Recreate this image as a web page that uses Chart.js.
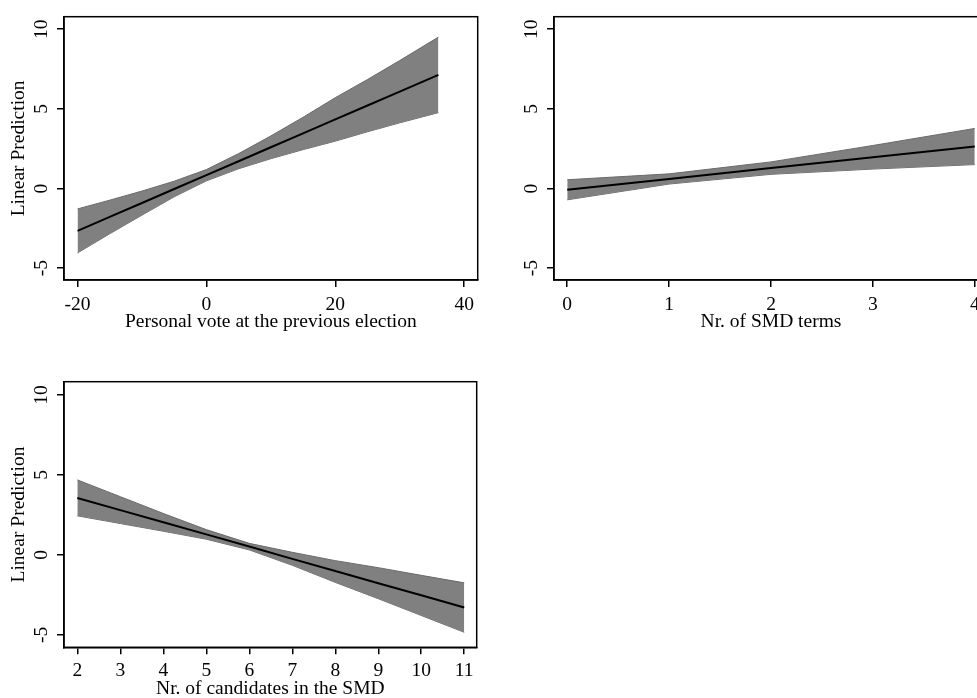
<!DOCTYPE html>
<html>
<head>
<meta charset="utf-8">
<script src="https://cdn.jsdelivr.net/npm/chart.js@4.4.1/dist/chart.umd.min.js"></script>
<style>
  html, body { margin: 0; padding: 0; background: #fff; }
  body { width: 977px; height: 698px; overflow: hidden; position: relative; }
  canvas { position: absolute; }
</style>
</head>
<body>
<canvas id="votePanel" width="489" height="340" style="left:0;top:0"></canvas>
<canvas id="termsPanel" width="509" height="340" style="left:490px;top:0"></canvas>
<canvas id="candPanel" width="489" height="342" style="left:0;top:365px"></canvas>
<script>
// Personal vote at the previous election
const voteX     = [-20, -15, -10, -5, 0, 5, 10, 15, 20, 25, 30, 36];
const voteFit   = [-2.66, -1.78, -0.91, -0.03, 0.84, 1.71, 2.59, 3.46, 4.34, 5.21, 6.08, 7.13];
const voteUpper = [-1.28, -0.73, -0.16, 0.46, 1.19, 2.19, 3.30, 4.47, 5.70, 6.84, 8.03, 9.50];
const voteLower = [-4.04, -2.84, -1.67, -0.52, 0.48, 1.24, 1.87, 2.44, 2.97, 3.56, 4.12, 4.76];
const voteTicks = [-20, 0, 20, 40];

// Nr. of SMD terms
const termsX     = [0, 1, 2, 3, 4];
const termsFit   = [-0.08, 0.60, 1.28, 1.96, 2.64];
const termsUpper = [0.55, 0.92, 1.67, 2.70, 3.77];
const termsLower = [-0.71, 0.28, 0.89, 1.22, 1.50];
const termsTicks = [0, 1, 2, 3, 4];

// Nr. of candidates in the SMD
const candX     = [2, 3, 4, 5, 6, 7, 8, 9, 10, 11];
const candFit   = [3.56, 2.80, 2.04, 1.28, 0.52, -0.25, -1.01, -1.77, -2.53, -3.29];
const candUpper = [4.69, 3.64, 2.59, 1.58, 0.72, 0.16, -0.36, -0.80, -1.28, -1.75];
const candLower = [2.44, 1.96, 1.48, 0.98, 0.31, -0.65, -1.72, -2.74, -3.79, -4.84];
const candTicks = [2, 3, 4, 5, 6, 7, 8, 9, 10, 11];

const yTicks = [-5, 0, 5, 10];
const yTitle = 'Linear Prediction';

const FONT = { family: '"Liberation Serif", "Times New Roman", serif', size: 19.5 };

// stata-style plot region border (all four sides)
const plotBox = {
    id: 'plotBox',
    afterDatasetsDraw(chart) {
        const { ctx, chartArea: a } = chart;
        ctx.save();
        ctx.strokeStyle = '#000';
        ctx.lineWidth = 1.5;
        ctx.strokeRect(a.left, a.top, a.right - a.left, a.bottom - a.top);
        ctx.restore();
    }
};

function pts(xs, ys) {
    return xs.map((x, i) => ({ x: x, y: ys[i] }));
}

function makePanel(id, p) {
    return new Chart(document.getElementById(id), {
        type: 'line',
        data: {
            datasets: [
                { data: pts(p.x, p.fit), borderColor: '#000', borderWidth: 2, pointRadius: 0, fill: false },
                { data: pts(p.x, p.upper), borderColor: '#6a6a6a', borderWidth: 1, pointRadius: 0,
                  backgroundColor: '#808080', fill: '+1' },
                { data: pts(p.x, p.lower), borderColor: '#6a6a6a', borderWidth: 1, pointRadius: 0, fill: false }
            ]
        },
        options: {
            responsive: false,
            animation: false,
            devicePixelRatio: 1,
            layout: { padding: { top: p.padTop, right: p.padRight, left: 0, bottom: 0 } },
            plugins: { legend: { display: false }, tooltip: { enabled: false } },
            scales: {
                x: {
                    type: 'linear', min: p.xMin, max: p.xMax,
                    afterBuildTicks: s => { s.ticks = p.ticks.map(v => ({ value: v })); },
                    afterFit: s => { s.height = p.xHeight; },
                    grid: { drawOnChartArea: false, tickLength: 7, color: '#000', lineWidth: 1.5 },
                    border: { color: '#000', width: 1.5 },
                    ticks: { font: FONT, color: '#000', padding: p.xTickPad, maxRotation: 0, autoSkip: false,
                             callback: v => String(v) },
                    title: { display: true, text: p.xTitle, font: FONT, color: '#000', padding: { top: 0, bottom: 6.3 } }
                },
                y: {
                    type: 'linear', min: p.yMin, max: p.yMax,
                    afterBuildTicks: s => { s.ticks = yTicks.map(v => ({ value: v })); },
                    afterFit: s => { s.width = 64; },
                    grid: { drawOnChartArea: false, tickLength: 7, color: '#000', lineWidth: 1.5 },
                    border: { color: '#000', width: 1.5 },
                    ticks: { font: FONT, color: '#000', padding: 5, minRotation: 90, maxRotation: 90,
                             crossAlign: 'center', autoSkip: false, callback: v => String(v) },
                    title: { display: p.showYTitle, text: yTitle, font: FONT, color: '#000', padding: { top: 7.6, bottom: 0 } }
                }
            }
        },
        plugins: [plotBox]
    });
}

makePanel('votePanel', {
    x: voteX, fit: voteFit, upper: voteUpper, lower: voteLower, ticks: voteTicks,
    xMin: -22.1, xMax: 42.1, yMin: -5.74, yMax: 10.78,
    padTop: 12.7, padRight: 11.3, xHeight: 60, xTickPad: 6,
    xTitle: 'Personal vote at the previous election', showYTitle: true
});

makePanel('termsPanel', {
    x: termsX, fit: termsFit, upper: termsUpper, lower: termsLower, ticks: termsTicks,
    xMin: -0.13, xMax: 4.13, yMin: -5.74, yMax: 10.78,
    padTop: 12.7, padRight: 11, xHeight: 60, xTickPad: 6,
    xTitle: 'Nr. of SMD terms', showYTitle: false
});

makePanel('candPanel', {
    x: candX, fit: candFit, upper: candUpper, lower: candLower, ticks: candTicks,
    xMin: 1.69, xMax: 11.29, yMin: -5.78, yMax: 10.83,
    padTop: 13.3, padRight: 12.3, xHeight: 59.7, xTickPad: 4.7,
    xTitle: 'Nr. of candidates in the SMD', showYTitle: true
});
</script>
</body>
</html>
